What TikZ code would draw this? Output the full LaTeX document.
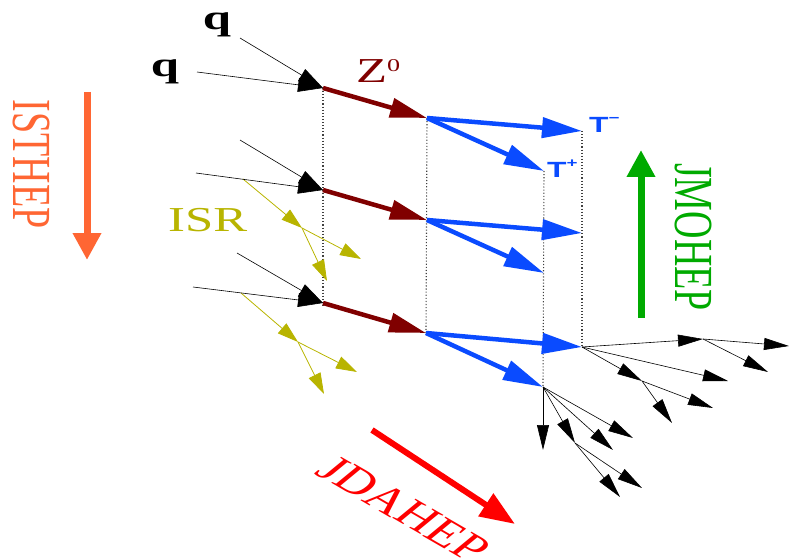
\documentclass[tikz,border=0pt]{standalone}
\usepackage{fontspec}
\setmainfont{Liberation Serif}
\newfontfamily\labsans{Liberation Sans}
\usetikzlibrary{arrows.meta}
\definecolor{zred}{HTML}{800000}
\definecolor{tblue}{HTML}{0A4BFF}
\definecolor{isry}{HTML}{B8B400}
\definecolor{isto}{HTML}{FF6633}
\definecolor{jmog}{HTML}{00AA00}
\definecolor{jdar}{HTML}{FF0000}
\newcommand{\hstr}[1]{\scalebox{1.45}[1]{#1}}
\begin{document}
\begin{tikzpicture}[x=1pt,y=-1pt,
  quark/.style={black, line width=0.6pt, -{Triangle[length=25pt,width=14pt]}},
  zline/.style={zred, line width=4.5pt, -{Triangle[length=37pt,width=19pt]}},
  taul/.style={tblue, line width=4.5pt, -{Triangle[length=40pt,width=20pt]}},
  isrl/.style={isry, line width=0.8pt, -{Triangle[length=21pt,width=13pt]}},
  dec/.style={black, line width=0.6pt, -{Triangle[length=25pt,width=12pt]}},
  vdot/.style={black!75, line width=1.1pt, dotted},
  bigarrow/.style={line width=7pt, -{Triangle[length=27pt,width=27pt]}},
  lab/.style={inner sep=0pt},
]
\useasboundingbox (0,0) rectangle (790,559);
% vertices
\coordinate (V1) at (323,88);  \coordinate (V2) at (323,190); \coordinate (V3) at (323,303);
\coordinate (Z1) at (427,118); \coordinate (Z2) at (427,220); \coordinate (Z3) at (426,333);
\coordinate (Tm1) at (582,131); \coordinate (Tp1) at (544,171);
\coordinate (Tm2) at (582,233); \coordinate (Tp2) at (544,273);
\coordinate (Tm3) at (582,347); \coordinate (Tp3) at (543,387);
\coordinate (V1b) at (323,308);
% quark starts
\coordinate (qa1) at (240,38);  \coordinate (qb1) at (197,72);
\coordinate (qa2) at (240,140); \coordinate (qb2) at (196,173);
\coordinate (qa3) at (237,253); \coordinate (qb3) at (193,287);
% ISR
\coordinate (I2) at (243,179); \coordinate (J2) at (302,228);
\coordinate (J2a) at (361,259); \coordinate (J2b) at (327,281);
\coordinate (I3) at (241,293); \coordinate (K3) at (298,342);
\coordinate (K3a) at (357,372); \coordinate (K3b) at (324,394);
% decays
\coordinate (D1) at (703,339); \coordinate (D1a) at (789,346); \coordinate (D1b) at (768,372);
\coordinate (E1) at (728,381);
\coordinate (D2) at (642,381); \coordinate (D2a) at (713,408); \coordinate (D2b) at (672,423);
\coordinate (F1) at (543,450);
\coordinate (D3) at (575,443); \coordinate (D3a) at (620,497); \coordinate (D3b) at (642,488);
\coordinate (F2) at (613,450); \coordinate (F3) at (633,438);
% big arrows
\coordinate (A1s) at (87,92);   \coordinate (A1e) at (87,260);
\coordinate (A2s) at (641,318); \coordinate (A2e) at (641,150);
\coordinate (A3s) at (372,430); \coordinate (A3e) at (515,524);

% dotted verticals
\draw[vdot] (V1) -- (V1b);
\draw[vdot] (Z1) -- (Z3);
\draw[vdot] (Tp1) -- (Tp3);
\draw[vdot] (Tm1) -- (Tm3);

% ISR
\draw[isrl] (I2) -- (J2);
\draw[isrl] (J2) -- (J2a);
\draw[isrl] (J2) -- (J2b);
\draw[isrl] (I3) -- (K3);
\draw[isrl] (K3) -- (K3a);
\draw[isrl] (K3) -- (K3b);

% quarks
\foreach \i in {1,2,3} {
  \draw[quark] (qa\i) -- (V\i);
  \draw[quark] (qb\i) -- (V\i);
  \draw[zline] (V\i) -- (Z\i);
  \draw[taul] (Z\i) -- (Tm\i);
  \draw[taul] (Z\i) -- (Tp\i);
}

% decays
\draw[dec] (Tm3) -- (D1);
\draw[dec] (D1) -- (D1a);
\draw[dec] (D1) -- (D1b);
\draw[dec] (Tm3) -- (E1);
\draw[dec] (Tm3) -- (D2);
\draw[dec] (D2) -- (D2a);
\draw[dec] (D2) -- (D2b);
\draw[dec] (Tp3) -- (F1);
\draw[dec] (Tp3) -- (D3);
\draw[dec] (D3) -- (D3a);
\draw[dec] (D3) -- (D3b);
\draw[dec] (Tp3) -- (F2);
\draw[dec] (Tp3) -- (F3);

% big arrows
\draw[bigarrow, isto] (A1s) -- (A1e);
\draw[bigarrow, jmog] (A2s) -- (A2e);
\draw[jdar, line width=6pt, -{Triangle[length=35pt,width=26pt]}] (A3s) -- (A3e);

% labels
\node[lab] (q1) at (217,25) {\hstr{\fontsize{35}{35}\selectfont\bfseries q}};
\node[lab] (q2) at (165,72) {\hstr{\fontsize{35}{35}\selectfont\bfseries q}};
\node[lab, anchor=base west, text=zred] (zlab) at (356,83)
  {\hstr{\fontsize{35}{35}\selectfont Z\raisebox{11pt}{\fontsize{18}{18}\selectfont 0}}};
\node[lab, anchor=base west, text=isry] (isr) at (168,231)
  {\hstr{\fontsize{35}{35}\selectfont ISR}};
\node[lab, anchor=base west, text=tblue] (tm) at (589,133)
  {\hstr{\labsans\bfseries\fontsize{22}{22}\selectfont T\raisebox{10pt}{\fontsize{13}{13}\selectfont −}}};
\node[lab, anchor=base west, text=tblue] (tp) at (547,178)
  {\hstr{\labsans\bfseries\fontsize{22}{22}\selectfont T\raisebox{10pt}{\fontsize{13}{13}\selectfont +}}};
\node[lab, text=isto] (isthep) at (31.5,164)
  {\hstr{\rotatebox{-90}{\fontsize{38}{38}\selectfont ISTHEP}}};
\node[lab, text=jmog] (jmohep) at (693,237)
  {\hstr{\rotatebox{-90}{\fontsize{38}{38}\selectfont JMOHEP}}};
\node[lab, text=jdar] (jdahep) at (404,509)
  {\hstr{\rotatebox{-40}{\fontsize{38}{38}\selectfont JDAHEP}}};
\end{tikzpicture}
\end{document}
